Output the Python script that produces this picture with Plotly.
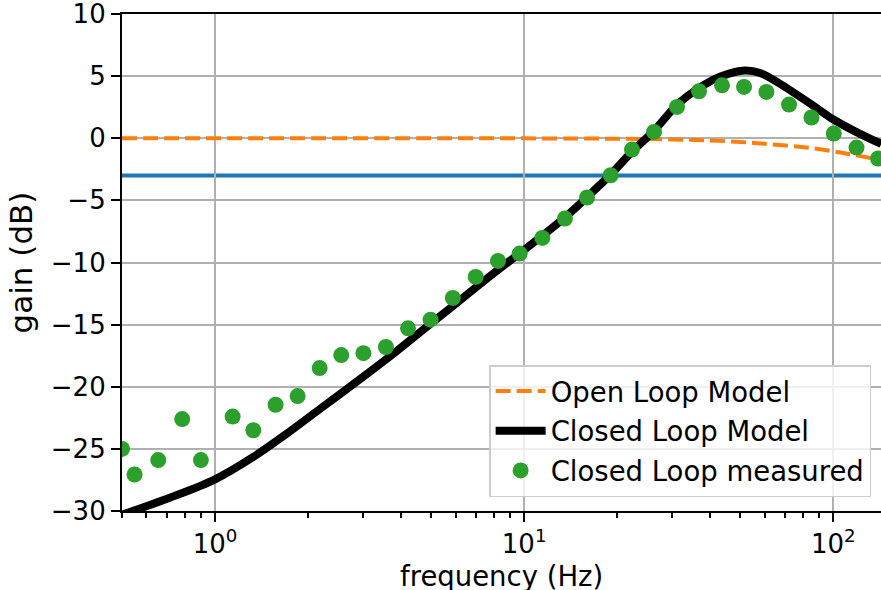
import plotly.graph_objects as go
import math

# Measured closed-loop gain
meas_freq = [0.5, 0.549, 0.655, 0.783, 0.900, 1.14, 1.33, 1.57, 1.85, 2.18,
             2.56, 3.02, 3.57, 4.21, 4.98, 5.88, 6.97, 8.23, 9.67, 11.45,
             13.55, 15.97, 19.05, 22.33, 26.31, 31.23, 36.79, 43.66, 51.45, 60.78,
             71.94, 85.04, 100.4, 118.9, 139.6]
meas_gain = [-25.0, -27.06, -25.9, -22.6, -25.9, -22.4, -23.5, -21.45, -20.75, -18.5,
             -17.45, -17.3, -16.8, -15.3, -14.6, -12.85, -11.16, -9.87, -9.28, -8.02,
             -6.46, -4.77, -2.98, -0.91, 0.51, 2.52, 3.78, 4.26, 4.13, 3.73,
             2.71, 1.67, 0.38, -0.75, -1.63]

# Closed-loop model
cl_freq = [0.5, 0.71, 1.0, 1.33, 1.70, 2.18, 2.94, 3.86, 4.94, 6.34, 8.13,
           9.69, 13.5, 17.5, 19.0, 22.3, 26.3, 31.9, 40.6, 46.0, 51.9, 58.0, 67.1,
           85.8, 99.6, 122.0, 143.0]
cl_gain = [-30.3, -28.95, -27.45, -25.65, -23.8, -21.8, -19.4, -17.15, -15.0,
           -12.85, -10.7, -9.25, -6.4, -3.8, -2.95, -1.1, 0.6, 2.9, 4.67, 5.2, 5.45,
           5.25, 4.4, 2.65, 1.55, 0.35, -0.45]

# Open-loop model
ol_freq = [0.5, 5, 10, 15, 20, 30, 40, 50, 60, 80, 100, 120, 143]
ol_gain = [0.0, 0.0, -0.01, -0.02, -0.04, -0.1, -0.18, -0.3, -0.45, -0.72, -1.05, -1.4, -1.75]

cutoff_db = -3
x_range = [0.5, 142.7]
y_range = [-30, 10]
y_ticks = [-30, -25, -20, -15, -10, -5, 0, 5, 10]
x_ticks = [1, 10, 100]
x_ticktext = ["10<sup>0</sup>", "10<sup>1</sup>", "10<sup>2</sup>"]
minor_ticks = [0.5, 0.6, 0.7, 0.8, 0.9, 2, 3, 4, 5, 6, 7, 8, 9,
               20, 30, 40, 50, 60, 70, 80, 90]
x_title = "frequency (Hz)"
y_title = "gain (dB)"

FONT = "DejaVu Sans"
FS = 26
LFS = 27.5

fig = go.Figure()
fig.add_trace(go.Scatter(x=ol_freq, y=ol_gain, mode="lines", name="Open Loop Model",
                         legendgroup="a",
                         line=dict(color="#ff7f0e", width=4, dash="15px,6px", shape="spline")))
fig.add_trace(go.Scatter(x=cl_freq, y=cl_gain, mode="lines", name="Closed Loop Model",
                         legendgroup="b",
                         line=dict(color="black", width=8, shape="spline")))
fig.add_trace(go.Scatter(x=meas_freq, y=meas_gain, mode="markers", name="Closed Loop measured",
                         legendgroup="c",
                         marker=dict(color="#2ca02c", size=16)))
fig.add_hline(y=cutoff_db, line=dict(color="#1f77b4", width=4), layer="below")

fig.add_annotation(text=x_title, xref="paper", yref="paper", x=0.5, y=0,
                   xanchor="center", yanchor="middle", yshift=-65, showarrow=False,
                   font=dict(family=FONT, size=27.5, color="black"))

fig.update_layout(
    width=881, height=590,
    margin=dict(l=122, r=0, t=14, b=79, autoexpand=False),
    plot_bgcolor="white", paper_bgcolor="white",
    font=dict(family=FONT, size=FS, color="black"),
    showlegend=True,
    legend=dict(x=0.987, y=0.028, xanchor="right", yanchor="bottom",
                bgcolor="rgba(255,255,255,0.8)", bordercolor="#cccccc", borderwidth=1.5,
                itemwidth=50, tracegroupgap=1,
                font=dict(family=FONT, size=LFS)),
)
fig.update_xaxes(
    type="log", range=[math.log10(x_range[0]), math.log10(x_range[1])],
    tickvals=x_ticks, ticktext=x_ticktext, automargin=False,
    ticklabeloverflow="allow",
    showline=True, linecolor="black", linewidth=2.2, mirror=True,
    ticks="outside", ticklen=9, tickwidth=2.2, tickcolor="black",
    showgrid=True, gridcolor="#b0b0b0", gridwidth=2,
    minor=dict(tickvals=minor_ticks, ticks="outside", ticklen=5, tickwidth=1.6,
               tickcolor="black", showgrid=False),
    zeroline=False,
)
fig.update_yaxes(
    range=y_range, tickvals=y_ticks, automargin=False,
    ticklabeloverflow="allow",
    showline=True, linecolor="black", linewidth=2.2, mirror=False,
    ticks="outside", ticklen=9, tickwidth=2.2, tickcolor="black",
    showgrid=True, gridcolor="#b0b0b0", gridwidth=2,
    title=dict(text=y_title, standoff=9),
    zeroline=False,
)

fig.write_html("out.html", config={"displayModeBar": False},
               post_script="document.body.style.margin='0';")
